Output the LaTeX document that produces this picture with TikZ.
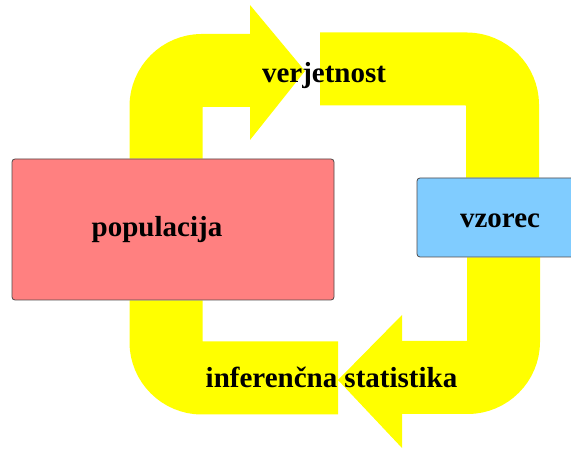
\documentclass[tikz,border=0pt]{standalone}
\usepackage{fontspec}
\setmainfont{Liberation Serif}
\usetikzlibrary{backgrounds}
\definecolor{popred}{RGB}{255,128,128}
\definecolor{vzblue}{RGB}{128,204,255}
\definecolor{edgegray}{RGB}{80,72,72}
\definecolor{bandyellow}{RGB}{255,255,0}
\tikzset{
	band/.style={bandyellow, line width=73pt, rounded corners=36pt},
	box/.style={draw=edgegray, line width=0.8pt, rounded corners=3pt, inner sep=0pt},
	lbl/.style={font=\bfseries\fontsize{29}{34}\selectfont, anchor=base, inner sep=0pt}
}
\begin{document}
\begin{tikzpicture}[x=1pt, y=-1pt]
		\useasboundingbox (0,0) rectangle (571,449);

		\node[box, fill=popred, minimum width=322pt, minimum height=141pt] (pop) at (173,229.5) {};
		\node[box, fill=vzblue, minimum width=166pt, minimum height=79pt] (vz) at (500,217.5) {};

		\begin{scope}[on background layer]
			\draw[band] ([xshift=-7pt]pop.north) |- (250,70.5);
			\fill[bandyellow] (250,5) -- (305,71) -- (250,140) -- cycle;
			\draw[band] (320,69) -| ([xshift=2.5pt]vz.north);

			\draw[band] ([xshift=3.5pt]vz.south) |- (402,377.5);
			\fill[bandyellow] (402,315) -- (338,380) -- (402,448) -- cycle;
			\draw[band] (338,378) -| ([xshift=-7pt]pop.south);
		\end{scope}

		\node[lbl] (verj) at (324,83) {verjetnost};
		\node[lbl] (poptext) at (157,237) {populacija};
		\node[lbl] (vztext) at (500,228) {vzorec};
		\node[lbl] (inf) at (331.5,388) {inferenčna statistika};
	\end{tikzpicture}
\end{document}
